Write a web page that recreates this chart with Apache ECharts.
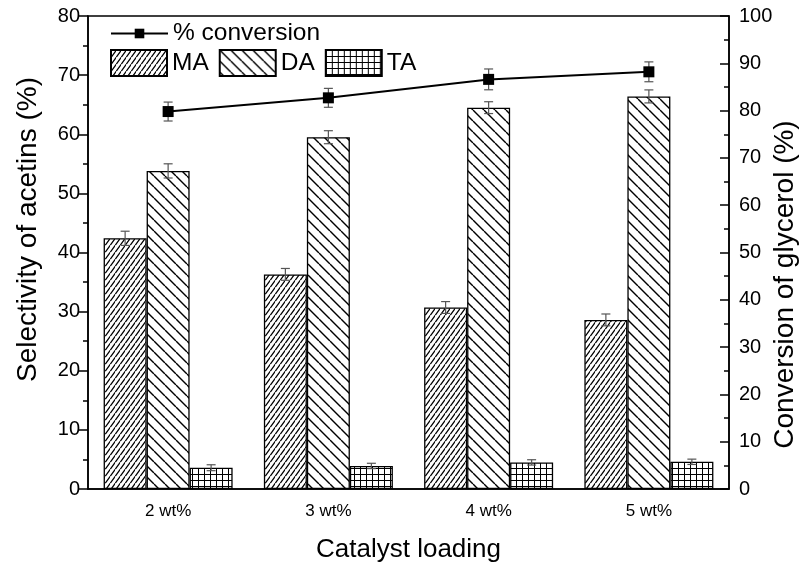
<!DOCTYPE html>
<html>
<head>
<meta charset="utf-8">
<script src="https://cdn.jsdelivr.net/npm/echarts@6/dist/echarts.min.js"></script>
<style>
  html, body { margin: 0; padding: 0; background: #fff; }
  #chart { width: 801px; height: 567px; }
</style>
</head>
<body>
<div id="chart"></div>
<script>
// Catalyst loading levels
const categories = ['2 wt%', '3 wt%', '4 wt%', '5 wt%'];

// Selectivity of acetins (%) with error margins
const maValues = [42.4, 36.3, 30.7, 28.6];
const maErrors = [1.2, 1.0, 1.0, 1.0];
const daValues = [53.8, 59.5, 64.5, 66.4];
const daErrors = [1.2, 1.1, 1.0, 1.1];
const taValues = [3.6, 3.9, 4.5, 4.6];
const taErrors = [0.5, 0.45, 0.45, 0.45];

// Conversion of glycerol (%) with error margins
const conversionValues = [79.8, 82.7, 86.6, 88.2];
const conversionErrors = [2.0, 2.0, 2.2, 2.1];

const FONT = "'Liberation Sans', Arial, sans-serif";
const BAR_WIDTH = 43;

// Hatch fill tiles
function makeTile(kind) {
  const c = document.createElement('canvas');
  const ctx = c.getContext('2d');
  let w, h;
  if (kind === 'fwd') { w = 5.5; h = 7.5; }
  else if (kind === 'back') { w = 11; h = 11; }
  else { w = 6; h = 6; }
  c.width = w; c.height = h;
  ctx.fillStyle = '#fff';
  ctx.fillRect(0, 0, w, h);
  ctx.strokeStyle = '#000';
  ctx.beginPath();
  if (kind === 'fwd') {
    ctx.lineWidth = 1.3;
    for (const dx of [-w, 0, w]) { ctx.moveTo(dx, h); ctx.lineTo(dx + w, 0); }
  } else if (kind === 'back') {
    ctx.lineWidth = 1.4;
    for (const dx of [-w, 0, w]) { ctx.moveTo(dx, 0); ctx.lineTo(dx + w, h); }
  } else {
    ctx.lineWidth = 1;
    ctx.moveTo(0.5, 0); ctx.lineTo(0.5, h);
    ctx.moveTo(0, 0.5); ctx.lineTo(w, 0.5);
  }
  ctx.stroke();
  return { image: c, repeat: 'repeat' };
}

function barSeries(name, values, fill) {
  return {
    type: 'bar', name, data: values,
    xAxisIndex: 0, yAxisIndex: 0,
    barWidth: BAR_WIDTH, barGap: '0%',
    itemStyle: { color: fill, borderColor: '#000', borderWidth: 1.3 },
    emphasis: { disabled: true },
    z: 2
  };
}

// Vertical error bars with caps, shifted sideways by a pixel offset
function errorSeries(values, errors, offset, yAxisIndex) {
  return {
    type: 'custom', silent: true,
    xAxisIndex: 0, yAxisIndex,
    z: 3,
    data: values.map((v, i) => [i, v, errors[i]]),
    renderItem(params, api) {
      const i = api.value(0), v = api.value(1), e = api.value(2);
      const hi = api.coord([i, v + e]);
      const lo = api.coord([i, v - e]);
      const x = hi[0] + offset;
      const cap = 4.5;
      const style = { stroke: '#555', lineWidth: 1.2 };
      return {
        type: 'group',
        children: [
          { type: 'line', shape: { x1: x, y1: hi[1], x2: x, y2: lo[1] }, style },
          { type: 'line', shape: { x1: x - cap, y1: hi[1], x2: x + cap, y2: hi[1] }, style },
          { type: 'line', shape: { x1: x - cap, y1: lo[1], x2: x + cap, y2: lo[1] }, style }
        ]
      };
    }
  };
}

const axisLineStyle = { color: '#000', width: 1.5 };

const chart = echarts.init(document.getElementById('chart'), null, { renderer: 'canvas' });
chart.setOption({
  animation: false,
  backgroundColor: '#fff',
  textStyle: { fontFamily: FONT, color: '#000' },
  grid: {
    left: 88, right: 72, top: 16, bottom: 78,
    outerBoundsMode: 'none', containLabel: false,
    show: true, borderColor: '#000', borderWidth: 1.5
  },
  legend: [
    {
      data: ['% conversion'],
      left: 110, top: 21, padding: 0,
      itemWidth: 57, itemHeight: 12,
      textStyle: { fontFamily: FONT, fontSize: 24.5, color: '#000' },
      selectedMode: false
    },
    {
      data: ['MA', 'DA', 'TA'],
      left: 110, top: 49, padding: 0,
      itemWidth: 56, itemHeight: 26, itemGap: 10,
      icon: 'rect',
      textStyle: { fontFamily: FONT, fontSize: 24.5, color: '#000' },
      selectedMode: false
    }
  ],
  xAxis: [
    {
      type: 'category', data: categories, position: 'bottom',
      axisLine: { lineStyle: axisLineStyle },
      axisTick: { alignWithLabel: true, length: 10, lineStyle: axisLineStyle },
      axisLabel: { fontFamily: FONT, fontSize: 17, color: '#000', margin: 14 },
      name: 'Catalyst loading', nameLocation: 'middle', nameGap: 48,
      nameMoveOverlap: false,
      nameTextStyle: { fontFamily: FONT, fontSize: 26, color: '#000' }
    },
    {
      type: 'category', data: categories, position: 'bottom', offset: 0,
      axisLine: { show: false },
      axisTick: { length: 5, lineStyle: axisLineStyle },
      axisLabel: { show: false }
    }
  ],
  yAxis: [
    {
      type: 'value', min: 0, max: 80, interval: 10, position: 'left',
      axisLine: { show: true, lineStyle: axisLineStyle },
      axisTick: { show: true, length: 9, lineStyle: axisLineStyle },
      minorTick: { show: true, splitNumber: 2, length: 5, lineStyle: axisLineStyle },
      splitLine: { show: false },
      axisLabel: { fontFamily: FONT, fontSize: 20, color: '#000', margin: 8 },
      name: 'Selectivity of acetins (%)', nameLocation: 'middle', nameGap: 46,
      nameMoveOverlap: false,
      nameTextStyle: { fontFamily: FONT, fontSize: 28, color: '#000', padding: [0, 0, 0, 46] }
    },
    {
      type: 'value', min: 0, max: 100, interval: 10, position: 'right',
      axisLine: { show: true, lineStyle: axisLineStyle },
      axisTick: { show: true, inside: true, length: 9, lineStyle: axisLineStyle },
      minorTick: { show: true, splitNumber: 2, length: 5, lineStyle: axisLineStyle },
      splitLine: { show: false },
      axisLabel: { fontFamily: FONT, fontSize: 20, color: '#000', margin: 10 },
      name: 'Conversion of glycerol (%)', nameLocation: 'middle', nameGap: 42,
      nameMoveOverlap: false,
      nameTextStyle: { fontFamily: FONT, fontSize: 28, color: '#000', padding: [0, 64, 0, 0] }
    }
  ],
  series: [
    barSeries('MA', maValues, makeTile('fwd')),
    barSeries('DA', daValues, makeTile('back')),
    barSeries('TA', taValues, makeTile('grid')),
    errorSeries(maValues, maErrors, -BAR_WIDTH, 0),
    errorSeries(daValues, daErrors, 0, 0),
    errorSeries(taValues, taErrors, BAR_WIDTH, 0),
    errorSeries(conversionValues, conversionErrors, 0, 1),
    {
      type: 'line', name: '% conversion',
      xAxisIndex: 0, yAxisIndex: 1,
      data: conversionValues,
      symbol: 'rect', symbolSize: 11,
      lineStyle: { color: '#000', width: 2 },
      itemStyle: { color: '#000' },
      emphasis: { disabled: true },
      z: 4
    }
  ]
});
</script>
</body>
</html>
